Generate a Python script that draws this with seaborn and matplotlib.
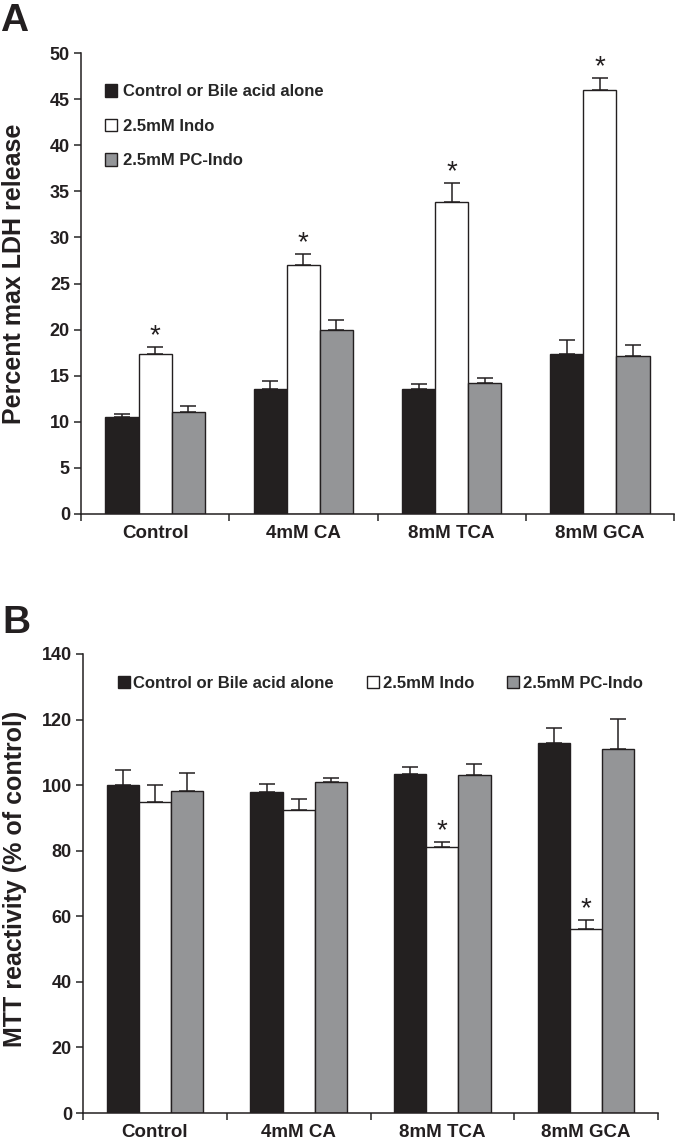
import pandas as pd
import seaborn as sns
import matplotlib.pyplot as plt
from matplotlib.patches import Patch
from matplotlib.ticker import FixedLocator

# data
groups = ['Control', '4mM CA', '8mM TCA', '8mM GCA']
treatments = ['Control or Bile acid alone', '2.5mM Indo', '2.5mM PC-Indo']

ldh_alone = [10.5, 13.6, 13.6, 17.3]
ldh_indo = [17.3, 27.0, 33.8, 46.0]
ldh_pcindo = [11.1, 20.0, 14.2, 17.1]
ldh_err_alone = [0.3, 0.8, 0.5, 1.6]
ldh_err_indo = [0.8, 1.2, 2.1, 1.3]
ldh_err_pcindo = [0.6, 1.0, 0.6, 1.2]
ldh_sig = [0, 1, 2, 3]  # groups with * on the Indo bar

mtt_alone = [100.0, 97.9, 103.5, 113.0]
mtt_indo = [94.8, 92.5, 81.0, 56.2]
mtt_pcindo = [98.3, 101.0, 103.0, 111.1]
mtt_err_alone = [4.7, 2.4, 1.9, 4.4]
mtt_err_indo = [5.3, 3.2, 1.6, 2.6]
mtt_err_pcindo = [5.3, 1.3, 3.3, 9.1]
mtt_sig = [2, 3]

colors = ['#231f20', '#ffffff', '#939598']

sns.set_style('ticks')
plt.rcParams['font.family'] = ['Liberation Sans', 'DejaVu Sans']
plt.rcParams['font.weight'] = 'bold'


def long_table(vals):
    rows = []
    for t, v in zip(treatments, vals):
        for g, x in zip(groups, v):
            rows.append({'group': g, 'treatment': t, 'value': x})
    return pd.DataFrame(rows)


def draw_panel(ax, vals, errs, sig, ymax, ystep, ylabel, star_off):
    df = long_table(vals)
    sns.barplot(data=df, x='group', y='value', hue='treatment', order=groups,
                hue_order=treatments, palette=colors, width=0.67, gap=0,
                errorbar=None, edgecolor='#231f20', linewidth=1.0,
                legend=False, ax=ax)
    bar_sets = list(ax.containers)
    for k, cont in enumerate(bar_sets):
        for j, bar in enumerate(cont):
            xc = bar.get_x() + bar.get_width() / 2
            ax.errorbar(xc, vals[k][j], yerr=[[0], [errs[k][j]]], fmt='none',
                        ecolor='#231f20', elinewidth=1.1, capsize=5.5,
                        capthick=1.1, zorder=3)
            if k == 1 and j in sig:
                ax.annotate('*', (xc, vals[k][j] + errs[k][j]),
                            xytext=(0, star_off), textcoords='offset points',
                            ha='center', va='baseline', fontsize=20,
                            fontweight='normal', color='#231f20')
    ax.set_xlim(-0.5, 3.5)
    ax.set_ylim(0, ymax)
    ax.set_yticks(range(0, ymax + 1, ystep))
    ax.xaxis.set_major_locator(FixedLocator([-0.5, 0.5, 1.5, 2.5, 3.5]))
    ax.xaxis.set_minor_locator(FixedLocator([0, 1, 2, 3]))
    ax.set_xticklabels([])
    ax.set_xticklabels(groups, minor=True)
    ax.tick_params(axis='x', which='major', length=5, width=1.1, direction='out')
    ax.tick_params(axis='x', which='minor', length=0, pad=8, labelsize=13.5)
    ax.tick_params(axis='y', length=5, width=1.1, labelsize=13, pad=3)
    for lab in ax.get_xticklabels(minor=True) + ax.get_yticklabels():
        lab.set_fontweight('bold')
        lab.set_color('#231f20')
    ax.set_xlabel('')
    ax.set_ylabel(ylabel, fontsize=18, fontweight='bold', color='#231f20')
    sns.despine(ax=ax)
    for s in ['left', 'bottom']:
        ax.spines[s].set_linewidth(1.1)
        ax.spines[s].set_color('#231f20')


fig = plt.figure(figsize=(6.76, 11.48), dpi=100)
ax1 = fig.add_axes([81 / 676, 634 / 1148, 593 / 676, 461 / 1148])
ax2 = fig.add_axes([83 / 676, 35 / 1148, 575 / 676, 459 / 1148])

draw_panel(ax1, [ldh_alone, ldh_indo, ldh_pcindo],
           [ldh_err_alone, ldh_err_indo, ldh_err_pcindo], ldh_sig,
           50, 5, 'Percent max LDH release', 3)
draw_panel(ax2, [mtt_alone, mtt_indo, mtt_pcindo],
           [mtt_err_alone, mtt_err_indo, mtt_err_pcindo], mtt_sig,
           140, 20, 'MTT reactivity (% of control)', 3)
ax1.yaxis.set_label_coords(-0.093, 0.52)
ax2.yaxis.set_label_coords(-0.097, 0.51)

handles = [Patch(facecolor=c, edgecolor='#231f20', linewidth=1.0) for c in colors]
ax1.legend(handles, treatments, loc='upper left', bbox_to_anchor=(0.04, 0.932),
           frameon=False, handlelength=0.75, handleheight=0.75,
           handletextpad=0.35, labelspacing=1.17, borderpad=0, borderaxespad=0,
           prop={'weight': 'bold', 'size': 12})
ax2.legend(handles, treatments, loc='upper left', bbox_to_anchor=(0.061, 0.952),
           frameon=False, ncol=3, handlelength=0.72, handleheight=0.72,
           handletextpad=0.2, columnspacing=2.0, borderpad=0, borderaxespad=0,
           prop={'weight': 'bold', 'size': 12})

fig.text(0.0, 1 - 3 / 1148, 'A', ha='left', va='top', fontsize=28,
         fontweight='bold', color='#231f20')
fig.text(0.003, 1 - 605 / 1148, 'B', ha='left', va='top', fontsize=28,
         fontweight='bold', color='#231f20')

fig.savefig('out.png', dpi=100)
